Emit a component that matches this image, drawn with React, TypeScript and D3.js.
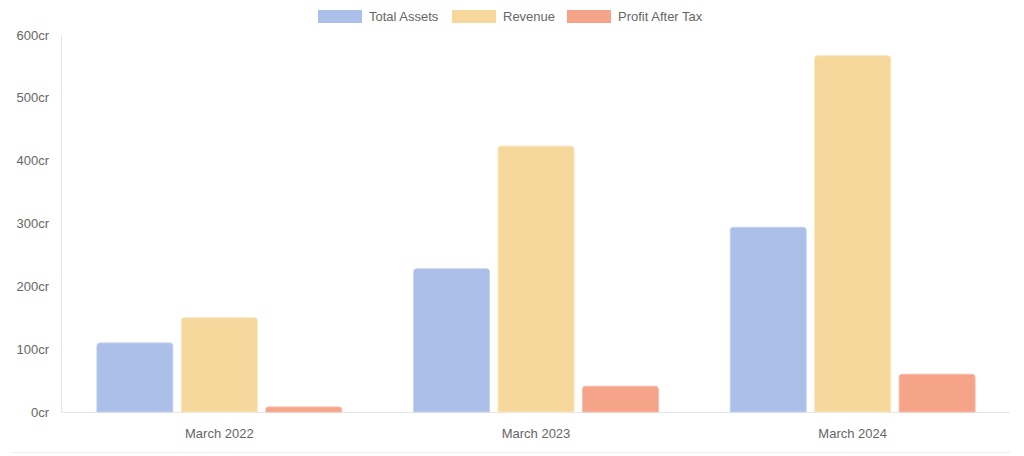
import React from "react";
import * as d3 from "d3";

const categories = ["March 2022", "March 2023", "March 2024"];
const seriesNames = ["Total Assets", "Revenue", "Profit After Tax"];
const totalAssets = [110, 228, 294];
const revenue = [150, 423, 567];
const profitAfterTax = [8, 41, 60];
const yTicks = [0, 100, 200, 300, 400, 500, 600];
const colors = ["#abbfe8", "#f6d89c", "#f5a48a"];
const borders = ["#c4d2f0", "#f9e4bb", "#f8bba7"];

export default function App() {
  const W = 1024, H = 456;
  const left = 61, right = 1011, top = 35, bottom = 412;
  const x0 = d3.scaleBand().domain(categories).range([left, right]).paddingInner(0).paddingOuter(0);
  const y = d3.scaleLinear().domain([0, 600]).range([bottom, top]);
  const series = [totalAssets, revenue, profitAfterTax];
  const catW = x0.bandwidth();
  const inner = d3.scaleBand().domain(seriesNames).range([0, catW * 0.8]);
  const barW = inner.bandwidth() * 0.9;
  const font = "'Liberation Sans', Arial, Helvetica, sans-serif";

  const legendX = [318, 452, 567];
  return (
    <svg width={W} height={H} style={{ position: "absolute", left: 0, top: 0, fontFamily: font }}>
      <line x1={12} x2={1010} y1={452.5} y2={452.5} stroke="#eeeeee" />
      {seriesNames.map((s, i) => (
        <g key={s}>
          <rect x={legendX[i]} y={10} width={44} height={13} fill={colors[i]} />
          <text x={legendX[i] + 51} y={21} fontSize={13} fill="#666">{s}</text>
        </g>
      ))}
      <line x1={left + 0.5} x2={left + 0.5} y1={top} y2={bottom} stroke="#e6e6e6" />
      <line x1={left} x2={1010} y1={bottom + 0.5} y2={bottom + 0.5} stroke="#e6e6e6" />
      {yTicks.map((t) => (
        <text key={t} x={49} y={y(t) + 4.5} textAnchor="end" fontSize={13} fill="#666">{t}cr</text>
      ))}
      {categories.map((c, ci) => (
        <g key={c}>
          <text x={x0(c)! + catW / 2} y={438} textAnchor="middle" fontSize={13} fill="#666">{c}</text>
          {series.map((vals, si) => {
            const bx = x0(c)! + catW * 0.1 + inner(seriesNames[si])! + (inner.bandwidth() - barW) / 2;
            const by = y(vals[ci]);
            const h = bottom - by;
            const r = Math.min(3, h / 2);
            const path = `M${bx},${bottom} L${bx},${by + r} Q${bx},${by} ${bx + r},${by} L${bx + barW - r},${by} Q${bx + barW},${by} ${bx + barW},${by + r} L${bx + barW},${bottom} Z`;
            return <path key={si} d={path} fill={colors[si]} stroke={borders[si]} strokeWidth={1} />;
          })}
        </g>
      ))}
    </svg>
  );
}
